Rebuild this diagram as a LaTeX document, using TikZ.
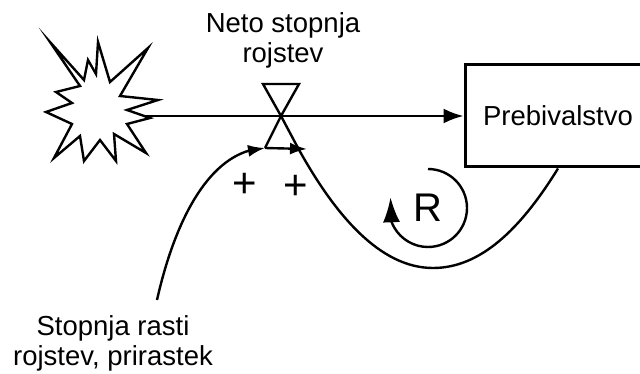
\documentclass[tikz,border=0pt]{standalone}
\usepackage{fontspec}
\setmainfont{Liberation Sans}
\usetikzlibrary{arrows.meta,bending}

\begin{document}
\begin{tikzpicture}[x=1pt,y=1pt,line width=2.4pt,
  txt/.style={inner sep=0pt,align=center,font=\fontsize{27.5}{30}\selectfont},
  sign/.style={inner sep=0pt,font=\fontsize{42}{42}\selectfont},
  tip/.style={-{Latex[length=17pt,width=12pt]}}]
\clip (0,0) rectangle (640,-374);
\draw[miter limit=20] (50,-42) -- (84,-80) -- (88,-60) -- (96,-74) -- (98,-42) -- (110,-82) -- (148,-48) -- (120,-96) -- (158,-100) -- (127,-110) -- (150,-118) -- (127,-124) -- (146,-153) -- (114,-134) -- (116,-161) -- (100,-140) -- (84,-161) -- (80,-136) -- (54,-158) -- (72,-124) -- (46,-112) -- (72,-103) -- (56,-92) -- (80,-86) -- cycle;
\coordinate (star) at (143,-116);
\coordinate (valve) at (281,-116);
\coordinate (vl) at (265,-148);
\coordinate (vr) at (298,-148);
\coordinate (vtip) at (307,-149);
\coordinate (lstart) at (157,-300);
\node[draw,line width=3pt,minimum width=186pt,minimum height=102pt,txt] (prebiv) at (558,-116) {Prebivalstvo};
\node[txt] (neto) at (283,-40) {Neto stopnja\\rojstev};
\node[txt] (stopnja) at (113,-343) {Stopnja rasti\\rojstev, prirastek};
\draw[-{Latex[length=20pt,width=15pt]}] (star) -- (prebiv.west);
\draw (263,-84) -- (299,-84) -- (valve) -- cycle;
\draw (vl) -- (valve) -- (vr);
\draw[tip] (vl) -- (vtip);
\draw[tip] (lstart) .. controls (175,-220) and (210,-150) .. (vl);
\draw (prebiv.south) .. controls (520,-230) and (480,-268) .. (433,-268) .. controls (380,-268) and (335,-215) .. (vr);
\node[sign] (plusl) at (245,-185) {+};
\node[sign] (plusr) at (296,-187) {+};
\node[inner sep=0pt,font=\fontsize{40}{40}\selectfont] (loopr) at (428,-208) {R};
\draw[-{Latex[length=25pt,width=17pt,flex]}] (428,-169) arc[start angle=90,end angle=-196,radius=39];
\end{tikzpicture}
\end{document}
